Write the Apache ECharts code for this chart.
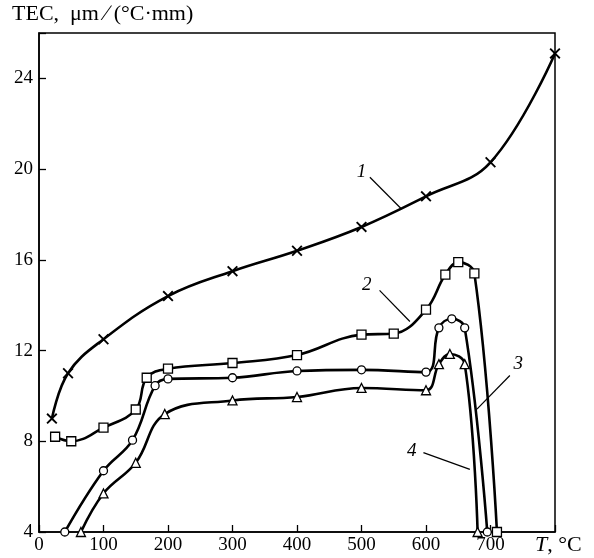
<!DOCTYPE html>
<html><head><meta charset="utf-8">
<script src="https://cdn.jsdelivr.net/npm/echarts@6/dist/echarts.min.js"></script>
<style>html,body{margin:0;padding:0;background:#fff}#c{width:594px;height:558px}</style>
</head><body><div id="c"></div>
<script>
// Curve 1 (x markers)
const s1T=[20,45,100,200,300,400,500,600,700,800];
const s1V=[9.0,11.0,12.5,14.4,15.5,16.4,17.45,18.8,20.3,25.1];
// Curve 2 (squares)
const s2T=[25,50,100,150,167,200,300,400,500,550,600,630,650,675,710];
const s2V=[8.2,8.0,8.6,9.4,10.8,11.2,11.45,11.8,12.7,12.75,13.8,15.35,15.9,15.4,4.0];
// Curve 3 (circles)
const s3T=[40,100,145,180,200,300,400,500,600,620,640,660,695];
const s3V=[4.0,6.7,8.05,10.45,10.75,10.8,11.1,11.15,11.05,13.0,13.4,13.0,4.0];
// Curve 4 (triangles)
const s4T=[65,100,150,195,300,400,500,600,620,637,660,680];
const s4V=[4.0,5.7,7.05,9.2,9.8,9.95,10.35,10.25,11.4,11.85,11.4,4.0];
// Tick labels
const xTicks=[0,100,200,300,400,500,600,700];
const yTicks=[4,8,12,16,20,24];
// Curve annotations (data coordinates)
const annoText=['1','2','3','4'];
const annoPos=[[500,19.87],[508,14.91],[743,11.42],[578,7.57]];
const annoLine=[[[513,19.64],[562,18.24]],[[528,14.65],[575,13.28]],[[730,10.9],[679,9.42]],[[596,7.5],[668,6.76]]];

const FONT='Liberation Serif';
const FS=19, FT=22;
const zip=(a,b)=>a.map((v,i)=>[v,b[i]]);
const XSYM='path://M0,1.2L1.2,0L5,3.8L8.8,0L10,1.2L6.2,5L10,8.8L8.8,10L5,6.2L1.2,10L0,8.8L3.8,5Z';
function ser(d,sym,size,fill){
  return {type:'line',data:d,smooth:0.4,symbol:sym,symbolSize:size,showAllSymbol:true,
    lineStyle:{color:'#000',width:2.6},
    itemStyle:{color:fill,borderColor:'#000',borderWidth:fill==='#000'?0:1.3},z:3};
}
const chart=echarts.init(document.getElementById('c'),null,{renderer:'canvas'});
chart.setOption({
  animation:false,
  backgroundColor:'#fff',
  grid:{left:39,right:39,top:33,bottom:26,show:true,borderColor:'#000',borderWidth:1.5,backgroundColor:'transparent'},
  xAxis:{type:'value',min:0,max:800,interval:100,
    name:'{i|T}, °C',nameLocation:'end',nameGap:-20,
    nameTextStyle:{fontFamily:FONT,fontSize:FT,color:'#000',align:'left',verticalAlign:'top',padding:[2,0,0,0],
      rich:{i:{fontFamily:FONT,fontSize:FT,fontStyle:'italic',color:'#000'}}},
    axisLine:{lineStyle:{color:'#000',width:1.5}},
    axisTick:{inside:true,length:7,lineStyle:{color:'#000',width:1.3}},
    splitLine:{show:false},
    axisLabel:{fontFamily:FONT,fontSize:FS,color:'#000',margin:4,
      formatter:v=>xTicks.includes(v)?String(v):''}},
  yAxis:{type:'value',min:4,max:26,interval:4,
    name:'TEC,  μm ∕ (°C·mm)',nameLocation:'end',nameGap:8,
    nameTextStyle:{fontFamily:FONT,fontSize:FT,color:'#000',align:'left',padding:[0,0,0,-27]},
    axisLine:{lineStyle:{color:'#000',width:1.5}},
    axisTick:{inside:true,length:7,lineStyle:{color:'#000',width:1.3}},
    splitLine:{show:false},
    axisLabel:{fontFamily:FONT,fontSize:FS,color:'#000',margin:6,
      formatter:v=>yTicks.includes(v)?String(v):''}},
  series:[
    ser(zip(s1T,s1V),XSYM,11,'#000'),
    ser(zip(s2T,s2V),'rect',9,'#fff'),
    ser(zip(s3T,s3V),'circle',8,'#fff'),
    ser(zip(s4T,s4V),'triangle',9,'#fff')
  ]
});
const px=p=>chart.convertToPixel({gridIndex:0},p);
const g=[];
annoText.forEach((t,i)=>{
  const p=px(annoPos[i]);
  g.push({type:'text',x:p[0],y:p[1],style:{text:t,fontFamily:FONT,fontSize:FS,fontStyle:'italic',fill:'#000',align:'center',verticalAlign:'middle'},z:10});
  const a=px(annoLine[i][0]),b=px(annoLine[i][1]);
  g.push({type:'line',shape:{x1:a[0],y1:a[1],x2:b[0],y2:b[1]},style:{stroke:'#000',lineWidth:1.2},z:10});
});
chart.setOption({graphic:g});
</script></body></html>
